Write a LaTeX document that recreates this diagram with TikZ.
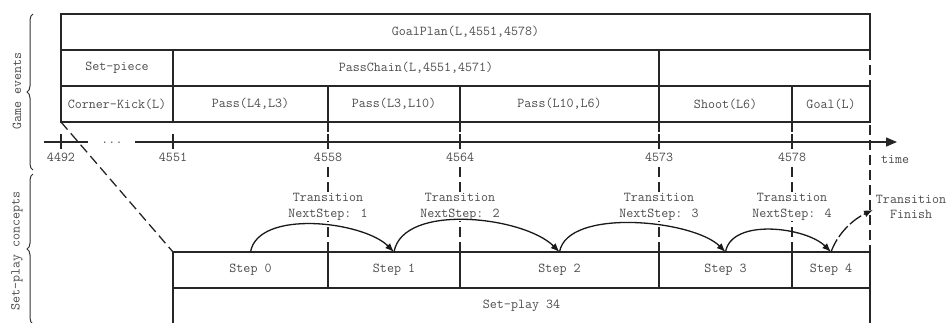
\documentclass[tikz,border=0pt]{standalone}
\usetikzlibrary{arrows.meta,decorations.pathreplacing}
\begin{document}
\begin{tikzpicture}[x=1pt,y=-1pt,
  every node/.style={font=\ttfamily\fontsize{13.6}{15.5}\selectfont, text=black!70},
  cell/.style={draw=black!85, line width=1.3pt, rectangle, inner sep=0pt, outer sep=0pt, minimum height=36pt},
  vdash/.style={draw=black!85, line width=1.3pt, dash pattern=on 10pt off 5pt},
  axisline/.style={draw=black!85, line width=1.5pt},
  tickmark/.style={draw=black!85, line width=1.3pt},
  ticklabel/.style={inner sep=1pt, fill=white},
  translabel/.style={align=center, fill=white, inner sep=1pt},
  trans/.style={draw=black!90, line width=1.3pt, -{Latex[length=9pt,width=7pt]}},
  bracket/.style={draw=black!80, line width=1pt, decorate, decoration={brace, amplitude=6pt}}
]
\clip (0,0) rectangle (947,322);
\useasboundingbox (0,0) rectangle (947,322);

% dashed verticals
\coordinate (d1t) at (328,122); \coordinate (d1b) at (328,252);
\coordinate (d2t) at (460,122); \coordinate (d2b) at (460,252);
\coordinate (d3t) at (659,122); \coordinate (d3b) at (659,252);
\coordinate (d4t) at (792,122); \coordinate (d4b) at (792,252);
\coordinate (d5t) at (870,50);  \coordinate (d5b) at (870,252);
\draw[vdash] (d1t) -- (d1b);
\draw[vdash] (d2t) -- (d2b);
\draw[vdash] (d3t) -- (d3b);
\draw[vdash] (d4t) -- (d4b);
\draw[vdash] (d5t) -- (d5b);

% game events boxes
\node[cell, minimum width=809pt] (goal) at (465.5,32) {GoalPlan(L,4551,4578)};
\node[cell, minimum width=112pt] (setp) at (117,68) {Set-piece};
\node[cell, minimum width=486pt] (chain) at (416,68) {PassChain(L,4551,4571)};
\node[cell, minimum width=112pt] (ck) at (117,104) {Corner-Kick(L)};
\node[cell, minimum width=155pt] (p1) at (250.5,104) {Pass(L4,L3)};
\node[cell, minimum width=132pt] (p2) at (394,104) {Pass(L3,L10)};
\node[cell, minimum width=199pt] (p3) at (559.5,104) {Pass(L10,L6)};
\node[cell, minimum width=133pt] (sh) at (725.5,104) {Shoot(L6)};
\node[cell, minimum width=78pt] (gl) at (831,104) {Goal(L)};

% time axis
\coordinate (a0) at (44,142); \coordinate (a1) at (88,142);
\coordinate (a2) at (135,142); \coordinate (a3) at (897,142);
\draw[axisline] (a0) -- (a1);
\draw[axisline, -{Triangle[length=11pt,width=9pt]}] (a2) -- (a3);
\node (dots) at (112,142.5) {...};
\foreach \x/\t in {61/4492,173/4551,328/4558,460/4564,659/4573,792/4578}{
  \draw[tickmark] (\x,134) -- (\x,149);
  \node[ticklabel] (l\t) at (\x,157) {\t};
}
\node[ticklabel] (time) at (895,159) {time};

% diagonal dashed link
\draw[vdash] (ck.south west) -- (173,252);

% set-play steps
\node[cell, minimum width=155pt] (s0) at (250.5,270) {Step 0};
\node[cell, minimum width=132pt] (s1) at (394,270) {Step 1};
\node[cell, minimum width=199pt] (s2) at (559.5,270) {Step 2};
\node[cell, minimum width=133pt] (s3) at (725.5,270) {Step 3};
\node[cell, minimum width=78pt] (s4) at (831,270) {Step 4};
\node[cell, minimum width=697pt, minimum height=50pt] (sp34) at (521.5,313) {};
\node (sp34l) at (521.5,306) {Set-play 34};

% transition labels
\node[translabel] (t1) at (328,207) {Transition\\NextStep: 1};
\node[translabel] (t2) at (460,207) {Transition\\NextStep: 2};
\node[translabel] (t3) at (659,207) {Transition\\NextStep: 3};
\node[translabel] (t4) at (792,207) {Transition\\NextStep: 4};
\node[translabel] (t5) at (911,207) {Transition\\Finish};

% transitions
\coordinate (fin) at (873,210);
\draw[trans] (s0.north) to[out=80,in=135,looseness=0.78] (s1.north);
\draw[trans] (s1.north) to[out=80,in=135,looseness=0.78] (s2.north);
\draw[trans] (s2.north) to[out=80,in=135,looseness=0.7] (s3.north);
\draw[trans] (s3.north) to[out=80,in=135,looseness=0.85] (s4.north);
\draw[trans, dash pattern=on 14pt off 3pt] (s4.north) to[out=70,in=205,looseness=0.9] (fin);

% side brackets
\coordinate (b1b) at (33,170); \coordinate (b1t) at (33,14);
\coordinate (b2b) at (33,324); \coordinate (b2t) at (33,174);
\draw[bracket] (b1b) -- (b1t);
\draw[bracket] (b2b) -- (b2t);
\node[rotate=90] (ge) at (17,91) {Game events};
\node[rotate=90] (spc) at (17,251) {Set-play concepts};
\end{tikzpicture}
\end{document}
